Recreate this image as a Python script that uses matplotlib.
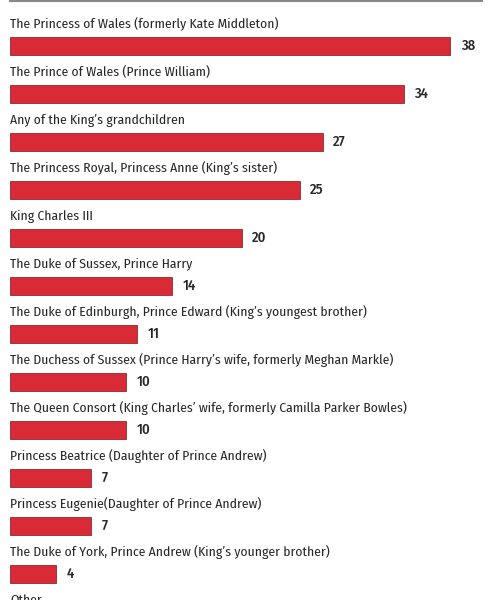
import matplotlib.pyplot as plt

labels = [
    "The Princess of Wales (formerly Kate Middleton)",
    "The Prince of Wales (Prince William)",
    "Any of the King\u2019s grandchildren",
    "The Princess Royal, Princess Anne (King\u2019s sister)",
    "King Charles III",
    "The Duke of Sussex, Prince Harry",
    "The Duke of Edinburgh, Prince Edward (King\u2019s youngest brother)",
    "The Duchess of Sussex (Prince Harry\u2019s wife, formerly Meghan Markle)",
    "The Queen Consort (King Charles\u2019 wife, formerly Camilla Parker Bowles)",
    "Princess Beatrice (Daughter of Prince Andrew)",
    "Princess Eugenie(Daughter of Prince Andrew)",
    "The Duke of York, Prince Andrew (King\u2019s younger brother)",
    "Other",
]
values = [38, 34, 27, 25, 20, 14, 11, 10, 10, 7, 7, 4, None]

plt.rcParams['font.family'] = ['Fira Sans Condensed', 'DejaVu Sans']

fig = plt.figure(figsize=(5.01, 6.0), dpi=100)
ax = fig.add_axes([10 / 501, 0, 472 / 501, 599 / 600])

for i, (lab, v) in enumerate(zip(labels, values)):
    ax.text(0, i - 0.46, lab, fontsize=9.8, color='#262626',
            ha='left', va='center', clip_on=False)
    if v is None:
        continue
    ax.barh(i, v, height=0.39, left=0, color='#d92b35',
            edgecolor='#8e2a2e', linewidth=0.6)
    ax.text(v + 0.9, i, str(v), fontsize=10.5, color='#262626',
            ha='left', va='center', fontweight='medium')

ax.set_xlim(0, 40.75)
ax.set_ylim(11.54, -0.94)
for s in ['left', 'right', 'bottom']:
    ax.spines[s].set_visible(False)
ax.spines['top'].set_color('#888888')
ax.spines['top'].set_linewidth(1.5)
ax.set_xticks([])
ax.set_yticks([])

fig.savefig('out.png', dpi=100)
